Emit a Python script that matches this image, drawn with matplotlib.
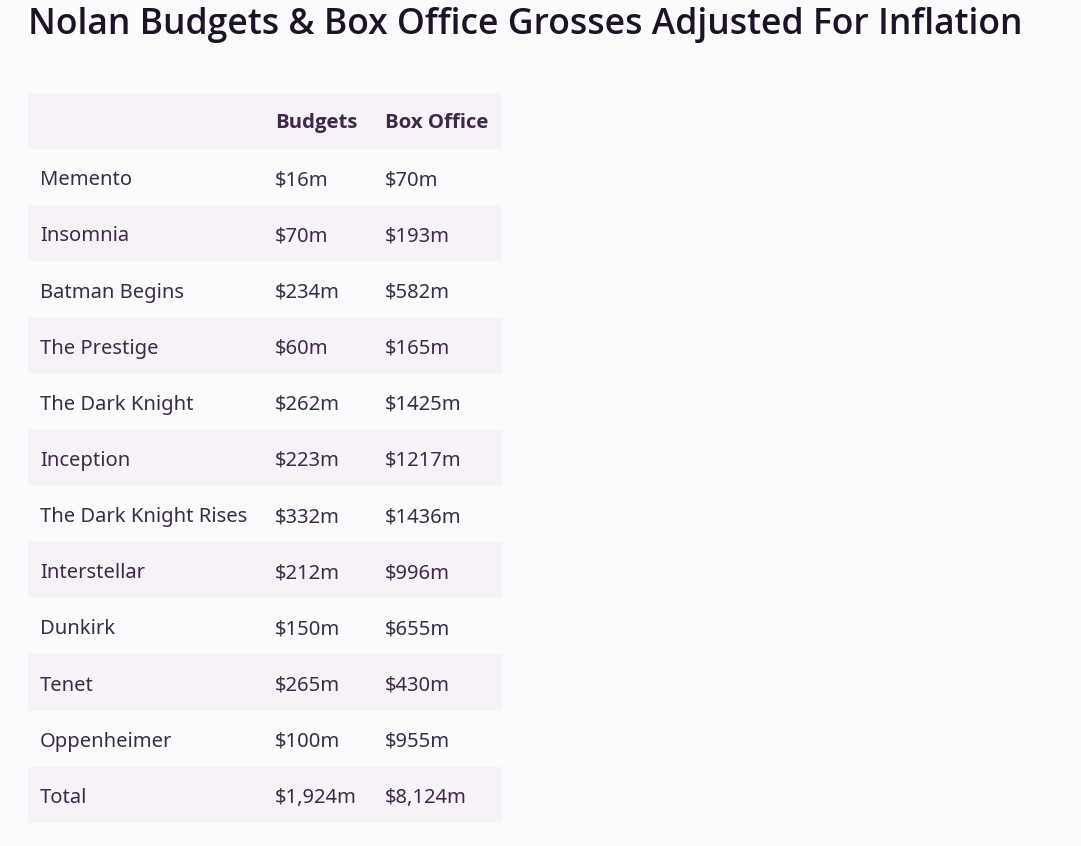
import matplotlib
matplotlib.use("Agg")
import matplotlib.pyplot as plt
from matplotlib.patches import Rectangle

title = "Nolan Budgets & Box Office Grosses Adjusted For Inflation"
columns = ["", "Budgets", "Box Office"]
films = ["Memento", "Insomnia", "Batman Begins", "The Prestige", "The Dark Knight",
         "Inception", "The Dark Knight Rises", "Interstellar", "Dunkirk", "Tenet",
         "Oppenheimer"]
budgets = [16, 70, 234, 60, 262, 223, 332, 212, 150, 265, 100]
box_office = [70, 193, 582, 165, 1425, 1217, 1436, 996, 655, 430, 955]

W, H = 1081, 846
BG = "#FBFAFD"
STRIPE = "#F7F2F7"
TXT = "#3B2A48"
FONT = "Noto Sans"
BOLD = "Open Sans"

fig = plt.figure(figsize=(W / 100, H / 100), dpi=100, facecolor=BG)
ax = fig.add_axes([0, 0, 1, 1])
ax.set_xlim(0, W)
ax.set_ylim(H, 0)
ax.axis("off")
ax.set_facecolor(BG)

ax.text(28, 25, title, fontsize=25.6, family=BOLD, color="#1C1426",
        va="center", ha="left", fontweight="semibold")

rows = [columns]
for f, b, o in zip(films, budgets, box_office):
    rows.append([f, f"${b}m", f"${o}m"])
rows.append(["Total", f"${sum(budgets):,}m", f"${sum(box_office):,}m"])

x0, x1 = 28, 502
y0 = 93
rh = 56.15
col_x = [40, 275, 385]
for i, r in enumerate(rows):
    top = y0 + i * rh
    if i % 2 == 0:
        ax.add_patch(Rectangle((x0, top), x1 - x0, rh, facecolor=STRIPE, edgecolor="none"))
    for j, cell in enumerate(r):
        if i == 0:
            ax.text(col_x[j], top + rh / 2 + 2, cell, fontsize=14.7, family=BOLD,
                    color=TXT, va="center", ha="left", fontweight="bold")
        else:
            ax.text(col_x[j], top + rh / 2 + 3, cell, fontsize=14.5, family=FONT,
                    color=TXT, va="center", ha="left")

fig.savefig("out.png", dpi=100, facecolor=BG)
